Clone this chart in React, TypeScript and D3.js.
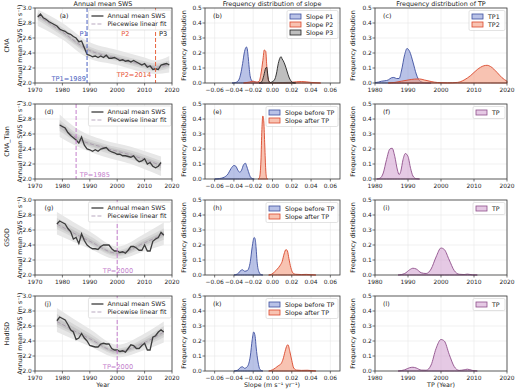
import React from 'react';
import * as d3 from 'd3';

// ---- data ----
const rowNames = ['CMA', 'CMA_Tian', 'GSOD', 'HadISD'];
const yearTicks = [1970, 1980, 1990, 2000, 2010, 2020];
const swsTicks = [2.0, 2.2, 2.4, 2.6, 2.8, 3.0];
const slopeTicks = [-0.06, -0.04, -0.02, 0, 0.02, 0.04, 0.06];
const freqTicks = [0, 0.1, 0.2, 0.3, 0.4, 0.5];
const tpTicks = [1980, 1990, 2000, 2010, 2020];

// annual mean SWS, start year + values
const swsCMA = { start: 1971, v: [2.88, 2.92, 2.87, 2.85, 2.82, 2.80, 2.78, 2.76, 2.72, 2.70, 2.69, 2.66, 2.65, 2.62, 2.60, 2.55, 2.56, 2.47, 2.38, 2.37, 2.35, 2.36, 2.34, 2.36, 2.34, 2.37, 2.33, 2.33, 2.34, 2.32, 2.30, 2.31, 2.29, 2.30, 2.28, 2.30, 2.28, 2.26, 2.24, 2.26, 2.21, 2.23, 2.18, 2.19, 2.18, 2.24, 2.25, 2.26, 2.24] };
const swsTian = { start: 1979, v: [2.72, 2.70, 2.68, 2.62, 2.58, 2.55, 2.52, 2.48, 2.56, 2.45, 2.40, 2.39, 2.37, 2.39, 2.37, 2.40, 2.41, 2.42, 2.38, 2.36, 2.35, 2.33, 2.33, 2.31, 2.31, 2.30, 2.29, 2.31, 2.26, 2.23, 2.24, 2.27, 2.20, 2.22, 2.17, 2.15, 2.17, 2.22] };
const swsGSOD = { start: 1978, v: [2.68, 2.72, 2.70, 2.68, 2.62, 2.58, 2.48, 2.50, 2.42, 2.55, 2.46, 2.40, 2.37, 2.35, 2.35, 2.34, 2.38, 2.40, 2.40, 2.40, 2.35, 2.32, 2.32, 2.30, 2.31, 2.29, 2.33, 2.38, 2.38, 2.36, 2.33, 2.33, 2.40, 2.32, 2.32, 2.45, 2.48, 2.50, 2.57, 2.53] };
const swsHad = { start: 1978, v: [2.67, 2.72, 2.70, 2.68, 2.62, 2.55, 2.52, 2.42, 2.44, 2.50, 2.44, 2.40, 2.34, 2.33, 2.32, 2.32, 2.36, 2.37, 2.36, 2.36, 2.30, 2.28, 2.28, 2.26, 2.27, 2.25, 2.30, 2.35, 2.34, 2.30, 2.30, 2.34, 2.37, 2.28, 2.28, 2.45, 2.47, 2.52, 2.55, 2.52] };

// piecewise fit ensemble: knots, center fit, outer / inner spread
const fanCMA = { knots: [1971, 1980, 1989, 2000, 2010, 2014, 2019], fit: [2.90, 2.68, 2.45, 2.33, 2.24, 2.21, 2.25], oLo: [2.76, 2.58, 2.34, 2.24, 2.14, 2.12, 2.14], oHi: [2.98, 2.80, 2.56, 2.44, 2.34, 2.30, 2.36], iLo: [2.84, 2.63, 2.40, 2.29, 2.19, 2.16, 2.20], iHi: [2.94, 2.74, 2.50, 2.38, 2.29, 2.26, 2.30] };
const fanTian = { knots: [1979, 1985, 1995, 2005, 2016], fit: [2.72, 2.55, 2.42, 2.32, 2.18], oLo: [2.56, 2.44, 2.30, 2.20, 2.04], oHi: [2.86, 2.68, 2.52, 2.43, 2.30], iLo: [2.64, 2.50, 2.36, 2.26, 2.11], iHi: [2.79, 2.61, 2.47, 2.38, 2.24] };
const fanGSOD = { knots: [1978, 1990, 2000, 2010, 2017], fit: [2.68, 2.45, 2.29, 2.43, 2.55], oLo: [2.54, 2.35, 2.21, 2.32, 2.40], oHi: [2.84, 2.58, 2.38, 2.55, 2.70], iLo: [2.61, 2.40, 2.25, 2.37, 2.47], iHi: [2.76, 2.52, 2.33, 2.49, 2.62] };
const fanHad = { knots: [1978, 1990, 2000, 2010, 2017], fit: [2.66, 2.43, 2.26, 2.38, 2.52], oLo: [2.52, 2.33, 2.18, 2.28, 2.38], oHi: [2.84, 2.56, 2.35, 2.50, 2.66], iLo: [2.59, 2.38, 2.22, 2.33, 2.45], iHi: [2.76, 2.50, 2.30, 2.44, 2.60] };

// slope densities [slope, freq]
const bP1 = [[-0.042, 0], [-0.038, 0.004], [-0.035, 0.02], [-0.033, 0.06], [-0.031, 0.13], [-0.029, 0.21], [-0.027, 0.24], [-0.026, 0.22], [-0.025, 0.16], [-0.024, 0.09], [-0.023, 0.04], [-0.021, 0.012], [-0.018, 0.006], [-0.014, 0.003], [-0.01, 0]];
const bP2 = [[-0.03, 0], [-0.024, 0.006], [-0.02, 0.012], [-0.017, 0.006], [-0.014, 0.01], [-0.012, 0.06], [-0.010, 0.15], [-0.0085, 0.22], [-0.007, 0.21], [-0.006, 0.12], [-0.005, 0.04], [-0.003, 0.005], [0, 0.002], [0.01, 0.003], [0.02, 0.005], [0.03, 0.01], [0.04, 0.004], [0.05, 0]];
const bP3 = [[-0.014, 0], [-0.011, 0.01], [-0.009, 0.05], [-0.007, 0.10], [-0.006, 0.105], [-0.005, 0.06], [-0.004, 0.015], [-0.002, 0.003], [0.0, 0.01], [0.002, 0.02], [0.004, 0.06], [0.006, 0.13], [0.008, 0.17], [0.009, 0.175], [0.010, 0.16], [0.011, 0.15], [0.013, 0.12], [0.015, 0.08], [0.017, 0.04], [0.019, 0.015], [0.021, 0.003], [0.024, 0]];
const eBefore = [[-0.06, 0], [-0.055, 0.003], [-0.05, 0.012], [-0.046, 0.035], [-0.043, 0.07], [-0.040, 0.09], [-0.038, 0.085], [-0.036, 0.06], [-0.034, 0.045], [-0.032, 0.06], [-0.030, 0.095], [-0.028, 0.105], [-0.027, 0.09], [-0.025, 0.05], [-0.023, 0.015], [-0.021, 0.003], [-0.019, 0]];
const eAfter = [[-0.015, 0], [-0.0135, 0.01], [-0.012, 0.12], [-0.011, 0.33], [-0.010, 0.42], [-0.009, 0.38], [-0.008, 0.22], [-0.007, 0.06], [-0.006, 0.005], [-0.005, 0]];
const hBefore = [[-0.04, 0], [-0.036, 0.008], [-0.033, 0.03], [-0.031, 0.035], [-0.029, 0.025], [-0.026, 0.03], [-0.023, 0.09], [-0.021, 0.19], [-0.019, 0.25], [-0.018, 0.24], [-0.017, 0.18], [-0.016, 0.09], [-0.014, 0.02], [-0.012, 0.003], [-0.01, 0]];
const hAfter = [[-0.004, 0], [-0.001, 0.005], [0.002, 0.02], [0.005, 0.04], [0.008, 0.065], [0.010, 0.09], [0.012, 0.14], [0.014, 0.17], [0.0155, 0.16], [0.017, 0.11], [0.019, 0.05], [0.021, 0.015], [0.024, 0.005], [0.03, 0.003], [0.035, 0.004], [0.04, 0.002], [0.045, 0]];
const kBefore = [[-0.04, 0], [-0.036, 0.006], [-0.033, 0.025], [-0.031, 0.028], [-0.029, 0.018], [-0.026, 0.03], [-0.023, 0.1], [-0.021, 0.21], [-0.0195, 0.26], [-0.018, 0.23], [-0.017, 0.16], [-0.015, 0.06], [-0.013, 0.01], [-0.01, 0]];
const kAfter = [[-0.004, 0], [0, 0.008], [0.003, 0.02], [0.006, 0.035], [0.009, 0.05], [0.011, 0.08], [0.013, 0.13], [0.015, 0.17], [0.016, 0.175], [0.018, 0.13], [0.020, 0.07], [0.022, 0.02], [0.025, 0.006], [0.03, 0.004], [0.036, 0.005], [0.04, 0.003], [0.045, 0]];

// turning point densities [year, freq]
const cTP1 = [[1980, 0.002], [1981, 0.006], [1982, 0.012], [1983, 0.015], [1984, 0.02], [1985, 0.035], [1985.7, 0.037], [1986.5, 0.03], [1987.3, 0.03], [1988, 0.08], [1989, 0.19], [1989.7, 0.23], [1990.5, 0.21], [1991.5, 0.14], [1992.5, 0.06], [1993.5, 0.015], [1995, 0.002], [1997, 0]];
const cTP2 = [[1984, 0], [1986, 0.004], [1988, 0.012], [1990, 0.02], [1992, 0.026], [1993.5, 0.027], [1995, 0.02], [1997, 0.01], [1999, 0.003], [2002, 0.001], [2005, 0.004], [2007, 0.02], [2009, 0.05], [2011, 0.09], [2013, 0.115], [2014, 0.118], [2015, 0.11], [2017, 0.07], [2018.5, 0.035], [2020, 0.012]];
const fTP = [[1980.5, 0], [1981.5, 0.005], [1982.5, 0.04], [1983.5, 0.13], [1984.5, 0.2], [1985.2, 0.205], [1986, 0.15], [1986.8, 0.06], [1987.3, 0.03], [1987.8, 0.05], [1988.5, 0.13], [1989.2, 0.17], [1990, 0.15], [1990.8, 0.07], [1991.5, 0.02], [1992.5, 0.002], [1993.5, 0]];
const iTP = [[1987, 0], [1989, 0.01], [1990.5, 0.035], [1991.5, 0.045], [1992.5, 0.04], [1994, 0.015], [1995.5, 0.01], [1997, 0.04], [1998.5, 0.12], [2000, 0.18], [2001, 0.17], [2002.5, 0.1], [2004, 0.03], [2005.5, 0.005], [2007, 0.003], [2008, 0.006], [2009.5, 0.001], [2011, 0]];
const lTP = [[1987, 0], [1989, 0.008], [1990.5, 0.022], [1991.5, 0.025], [1992.5, 0.02], [1994, 0.006], [1995.5, 0.005], [1997, 0.04], [1998.5, 0.15], [2000, 0.21], [2001, 0.2], [2002.5, 0.11], [2004, 0.03], [2005.5, 0.004], [2007, 0.008], [2008, 0.012], [2009.5, 0.004], [2011, 0]];

// ---- styles ----
const FONT = 'DejaVu Sans, sans-serif';
const BLUE = { fill: '#7f90d4', stroke: '#3d4f9f' };
const RED = { fill: '#f39172', stroke: '#d9472b' };
const GREY = { fill: '#8a8a8a', stroke: '#222' };
const PINK = { fill: '#cf9dcd', stroke: '#8e4f8a' };
const TICK_FS = 5.9;
const LAB_FS = 6.3;

const colX = [[35, 172], [205, 340], [375, 507]];
const rowTop = [8, 104, 200, 296];
const rowH = 75;

const fmt1 = d3.format('.1f');
const fmt2 = d3.format('.2f');

function Frame({ x, y, xTicks, yTicks, xFmt, yFmt, children }: any) {
  const [x0, x1] = x.range();
  const [yb, yt] = y.range();
  return (
    <g>
      {xTicks.map((t: number) => <line key={'gx' + t} x1={x(t)} x2={x(t)} y1={yt} y2={yb} stroke="#e8e8e8" strokeWidth={0.6} />)}
      {yTicks.map((t: number) => <line key={'gy' + t} x1={x0} x2={x1} y1={y(t)} y2={y(t)} stroke="#e8e8e8" strokeWidth={0.6} />)}
      <g>{children}</g>
      <rect x={x0} y={yt} width={x1 - x0} height={yb - yt} fill="none" stroke="#3a3a3a" strokeWidth={0.8} />
      {xTicks.map((t: number) => (
        <g key={'tx' + t}>
          <line x1={x(t)} x2={x(t)} y1={yb} y2={yb + 2.5} stroke="#3a3a3a" strokeWidth={0.7} />
          <text x={x(t)} y={yb + 8.5} fontSize={TICK_FS} textAnchor="middle" fill="#222">{xFmt(t)}</text>
        </g>
      ))}
      {yTicks.map((t: number) => (
        <g key={'ty' + t}>
          <line x1={x0 - 2.5} x2={x0} y1={y(t)} y2={y(t)} stroke="#3a3a3a" strokeWidth={0.7} />
          <text x={x0 - 3.2} y={y(t) + 2.1} fontSize={TICK_FS} textAnchor="end" fill="#222">{yFmt(t)}</text>
        </g>
      ))}
    </g>
  );
}

function Legend({ x, y, w, items }: any) {
  const h = items.length * 8 + 4;
  return (
    <g>
      <rect x={x} y={y} width={w} height={h} rx={1.5} fill="#fff" fillOpacity={0.85} stroke="#d0d0d0" strokeWidth={0.6} />
      {items.map((it: any, i: number) => {
        const cy = y + 6 + i * 8;
        return (
          <g key={i}>
            {it.kind === 'line' && <line x1={x + 3} x2={x + 15} y1={cy} y2={cy} stroke={it.stroke} strokeWidth={it.sw} strokeDasharray={it.dash} />}
            {it.kind === 'patch' && <rect x={x + 3} y={cy - 2.5} width={11} height={5} fill={it.fill} fillOpacity={0.55} stroke={it.stroke} strokeWidth={0.8} />}
            <text x={x + 19} y={cy + 2.2} fontSize={LAB_FS} fill="#222">{it.label}</text>
          </g>
        );
      })}
    </g>
  );
}

function SwsPanel({ row, sws, fan, label, children }: any) {
  const x = d3.scaleLinear().domain([1970, 2020]).range(colX[0]);
  const y = d3.scaleLinear().domain([2.0, 3.0]).range([rowTop[row] + rowH, rowTop[row]]);
  const pts = fan.knots.map((k: number, i: number) => ({ k, i }));
  const band = (lo: number[], hi: number[]) =>
    d3.area<any>().x(d => x(d.k)).y0(d => y(lo[d.i])).y1(d => y(hi[d.i])).curve(d3.curveMonotoneX)(pts) as string;
  const fitLine = d3.line<any>().x(d => x(d.k)).y(d => y(fan.fit[d.i])).curve(d3.curveMonotoneX)(pts) as string;
  const series = d3.line<number>().x((_, i) => x(sws.start + i)).y(d => y(d))(sws.v) as string;
  const mid = (a: number[]) => a.map((v: number, i: number) => (v + fan.fit[i]) / 2);
  return (
    <Frame x={x} y={y} xTicks={yearTicks} yTicks={swsTicks} xFmt={String} yFmt={fmt1}>
      <path d={band(fan.oLo, fan.oHi)} fill="#e7e7e7" />
      <path d={band(fan.iLo, fan.iHi)} fill="#d2d2d2" opacity={0.85} />
      <path d={band(mid(fan.iLo), mid(fan.iHi))} fill="#bdbdbd" opacity={0.7} />
      <path d={fitLine} fill="none" stroke="#a99aad" strokeWidth={0.9} strokeDasharray="4,2" />
      <path d={series} fill="none" stroke="#3c3c3c" strokeWidth={1.3} />
      {children && children(x, y)}
      <Legend x={x(1989.5)} y={rowTop[row] + 2} w={x(2020) - x(1989.5) - 1} items={[
        { kind: 'line', label: 'Annual mean SWS', stroke: '#3c3c3c', sw: 1.3 },
        { kind: 'line', label: 'Piecewise linear fit', stroke: '#b9a9c0', sw: 1, dash: '4,2' },
      ]} />
      <text x={x(label === '(a)' ? 1979 : 1973.5)} y={rowTop[row] + 10} fontSize={LAB_FS} fill="#222">{label}</text>
    </Frame>
  );
}

function DensPanel({ row, col, series, label, legendW }: any) {
  const isSlope = col === 1;
  const x = d3.scaleLinear().domain(isSlope ? [-0.07, 0.07] : [1980, 2020]).range(colX[col]);
  const y = d3.scaleLinear().domain([0, 0.5]).range([rowTop[row] + rowH, rowTop[row]]);
  const area = d3.area<number[]>().x(d => x(d[0])).y0(y(0)).y1(d => y(d[1])).curve(d3.curveMonotoneX);
  const xr = colX[col][1];
  return (
    <Frame x={x} y={y} xTicks={isSlope ? slopeTicks : tpTicks} yTicks={freqTicks}
      xFmt={isSlope ? (t: number) => (t === 0 ? '0.00' : fmt2(t)) : String} yFmt={fmt1}>
      {series.map((s: any, i: number) => (
        <path key={i} d={area(s.data) as string} fill={s.c.fill} fillOpacity={0.55} stroke={s.c.stroke} strokeWidth={0.9} />
      ))}
      <Legend x={xr - legendW - 2} y={rowTop[row] + 2.5} w={legendW}
        items={series.map((s: any) => ({ kind: 'patch', label: s.label, fill: s.c.fill, stroke: s.c.stroke }))} />
      <text x={colX[col][0] + 8} y={rowTop[row] + 10} fontSize={LAB_FS} fill="#222">{label}</text>
    </Frame>
  );
}

const slopeRows = [
  { label: '(b)', w: 51, series: [{ data: bP1, c: BLUE, label: 'Slope P1' }, { data: bP2, c: RED, label: 'Slope P2' }, { data: bP3, c: GREY, label: 'Slope P3' }] },
  { label: '(e)', w: 72, series: [{ data: eBefore, c: BLUE, label: 'Slope before TP' }, { data: eAfter, c: RED, label: 'Slope after TP' }] },
  { label: '(h)', w: 72, series: [{ data: hBefore, c: BLUE, label: 'Slope before TP' }, { data: hAfter, c: RED, label: 'Slope after TP' }] },
  { label: '(k)', w: 72, series: [{ data: kBefore, c: BLUE, label: 'Slope before TP' }, { data: kAfter, c: RED, label: 'Slope after TP' }] },
];
const tpRows = [
  { label: '(c)', w: 36, series: [{ data: cTP1, c: BLUE, label: 'TP1' }, { data: cTP2, c: RED, label: 'TP2' }] },
  { label: '(f)', w: 32, series: [{ data: fTP, c: PINK, label: 'TP' }] },
  { label: '(i)', w: 32, series: [{ data: iTP, c: PINK, label: 'TP' }] },
  { label: '(l)', w: 32, series: [{ data: lTP, c: PINK, label: 'TP' }] },
];

const TPC = '#c47fcc';
const ANN_FS = 6.6;

export default function App() {
  const swsRows = [
    { sws: swsCMA, fan: fanCMA, label: '(a)' },
    { sws: swsTian, fan: fanTian, label: '(d)' },
    { sws: swsGSOD, fan: fanGSOD, label: '(g)' },
    { sws: swsHad, fan: fanHad, label: '(j)' },
  ];
  const annot = [
    (x: any, y: any) => (
      <g>
        <line x1={x(1989)} x2={x(1989)} y1={y(3)} y2={y(2)} stroke="#4a5fc1" strokeWidth={1} strokeDasharray="4,2" />
        <line x1={x(2014)} x2={x(2014)} y1={y(3)} y2={y(2)} stroke="#e8643f" strokeWidth={1} strokeDasharray="4,2" />
        <text x={x(1987.7)} y={y(2.625)} fontSize={ANN_FS} textAnchor="middle" fill="#4a5fc1">P1</text>
        <text x={x(2003)} y={y(2.625)} fontSize={ANN_FS} textAnchor="middle" fill="#e8553a">P2</text>
        <text x={x(2015.3)} y={y(2.625)} fontSize={ANN_FS} fill="#222">P3</text>
        <text x={x(1988.6)} y={y(2.03)} fontSize={ANN_FS} textAnchor="end" fill="#4a5fc1">TP1=1989</text>
        <text x={x(2012.4)} y={y(2.085)} fontSize={ANN_FS} textAnchor="end" fill="#e8553a">TP2=2014</text>
      </g>
    ),
    (x: any, y: any) => (
      <g>
        <line x1={x(1985)} x2={x(1985)} y1={y(3)} y2={y(2)} stroke={TPC} strokeWidth={1} strokeDasharray="4,2" />
        <text x={x(1986.3)} y={y(2.03)} fontSize={ANN_FS} fill={TPC}>TP=1985</text>
      </g>
    ),
    (x: any, y: any) => (
      <g>
        <line x1={x(2000)} x2={x(2000)} y1={y(3)} y2={y(2)} stroke={TPC} strokeWidth={1} strokeDasharray="4,2" />
        <text x={x(2000.3)} y={y(2.03)} fontSize={ANN_FS} textAnchor="middle" fill={TPC}>TP=2000</text>
      </g>
    ),
    (x: any, y: any) => (
      <g>
        <line x1={x(2000)} x2={x(2000)} y1={y(3)} y2={y(2)} stroke={TPC} strokeWidth={1} strokeDasharray="4,2" />
        <text x={x(2000.3)} y={y(2.03)} fontSize={ANN_FS} textAnchor="middle" fill={TPC}>TP=2000</text>
      </g>
    ),
  ];

  return (
    <svg width={516} height={391} style={{ position: 'absolute', left: 0, top: 0, background: '#fff' }} fontFamily={FONT}>
      <rect width={516} height={391} fill="#fff" />
      <text x={103} y={6.3} fontSize={6.4} textAnchor="middle" fill="#222">Annual mean SWS</text>
      <text x={272} y={6.3} fontSize={6.4} textAnchor="middle" fill="#222">Frequency distribution of slope</text>
      <text x={441} y={6.3} fontSize={6.4} textAnchor="middle" fill="#222">Frequency distribution of TP</text>
      {swsRows.map((r, i) => {
        const cy = rowTop[i] + rowH / 2;
        return (
          <g key={'r' + i}>
            <text transform={`translate(9,${cy}) rotate(-90)`} fontSize={LAB_FS} textAnchor="middle" fill="#222">{rowNames[i]}</text>
            <text transform={`translate(21.5,${cy}) rotate(-90)`} fontSize={LAB_FS} textAnchor="middle" fill="#222">Annual mean SWS (m s⁻¹)</text>
            <text transform={`translate(186,${cy}) rotate(-90)`} fontSize={LAB_FS} textAnchor="middle" fill="#222">Frequency distribution</text>
            <text transform={`translate(355,${cy}) rotate(-90)`} fontSize={LAB_FS} textAnchor="middle" fill="#222">Frequency distribution</text>
            <SwsPanel row={i} sws={r.sws} fan={r.fan} label={r.label}>{annot[i]}</SwsPanel>
            <DensPanel row={i} col={1} series={slopeRows[i].series} label={slopeRows[i].label} legendW={slopeRows[i].w} />
            <DensPanel row={i} col={2} series={tpRows[i].series} label={tpRows[i].label} legendW={tpRows[i].w} />
          </g>
        );
      })}
      <text x={103} y={387} fontSize={LAB_FS} textAnchor="middle" fill="#222">Year</text>
      <text x={272} y={387} fontSize={LAB_FS} textAnchor="middle" fill="#222">Slope  (m s⁻¹ yr⁻¹)</text>
      <text x={441} y={387} fontSize={LAB_FS} textAnchor="middle" fill="#222">TP (Year)</text>
    </svg>
  );
}
